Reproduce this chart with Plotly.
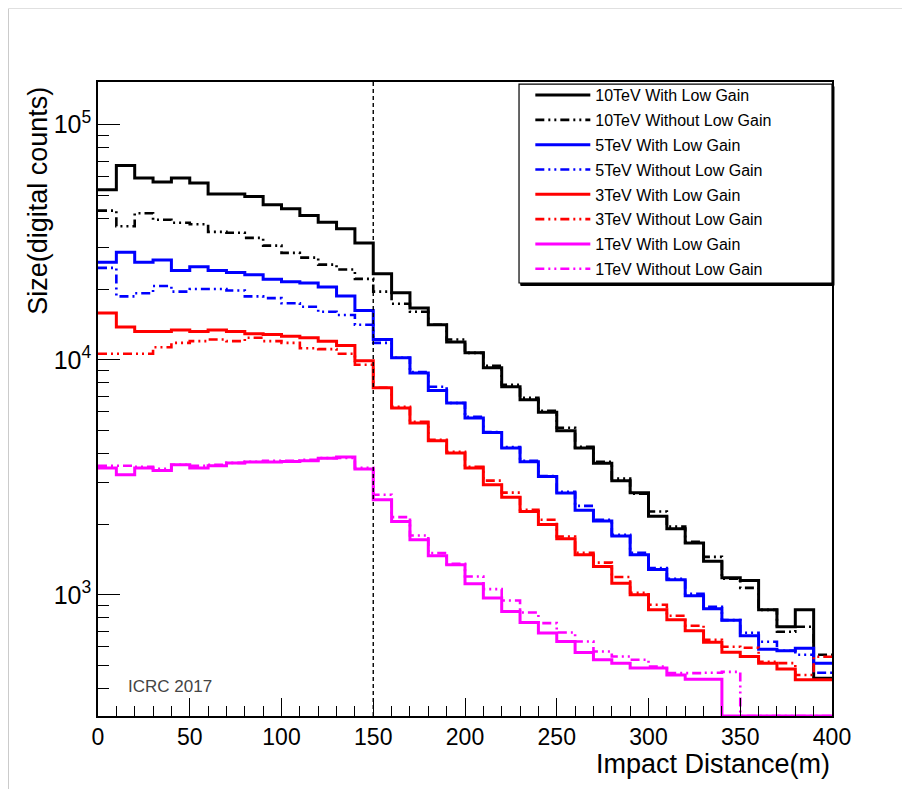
import numpy as np
import plotly.graph_objects as go

# ---------------- data ----------------
BIN_WIDTH = 10          # m
X_MIN, X_MAX = 0, 400
Y_MIN, Y_MAX = 305, 152000
LOW_GAIN_CUT = 150      # m, dashed vertical marker

ten_with = [52900, 67100, 59300, 57000, 59300, 56500, 50700, 50700, 49500, 45700,
            43900, 41100, 38500, 36100, 31400, 23200, 19300, 16600, 14100, 11900,
            10700, 9250, 7680, 6760, 5980, 4990, 4210, 3630, 3060, 2720,
            2160, 1910, 1660, 1390, 1181, 1150, 863, 731, 863, 441]
ten_without = [43100, 37000, 42000, 39400, 38300, 37700, 35000, 34700, 33000, 30600,
               28500, 27200, 25400, 24200, 22100, 19500, 17300, 16000, 14100, 12200,
               10700, 9430, 7830, 6890, 6070, 5140, 4260, 3680, 3120, 2690,
               2260, 1950, 1680, 1450, 1170, 1070, 863, 696, 731, 556]
five_with = [26000, 28700, 26000, 26600, 24000, 24900, 24000, 23500, 23000, 22000,
             21500, 21200, 20400, 18700, 16200, 12200, 10200, 8780, 7400, 6540,
             5650, 4900, 4210, 3680, 3190, 2710, 2290, 2060, 1780, 1480,
             1280, 1160, 990, 872, 780, 669, 587, 578, 593, 511]
five_without = [24600, 18600, 19200, 20600, 19500, 20000, 20000, 19700, 18600, 18300,
                17400, 16800, 16000, 15500, 14100, 11800, 10200, 8870, 7680, 6550,
                5720, 4920, 4250, 3720, 3200, 2740, 2390, 2085, 1800, 1510,
                1300, 1170, 1010, 889, 780, 689, 631, 578, 556, 466]
three_with = [15800, 13800, 13200, 13200, 13400, 13200, 13400, 13200, 12900, 12800,
              12600, 12400, 12000, 11500, 9900, 7600, 6230, 5380, 4520, 4010,
              3460, 2940, 2600, 2260, 1990, 1730, 1480, 1320, 1120, 1000,
              863, 783, 703, 628, 569, 546, 512, 483, 435, 435]
three_without = [10600, 10600, 10600, 11300, 11800, 12000, 12200, 12000, 12400, 12000,
                 11800, 11200, 11100, 10600, 9520, 7600, 6310, 5450, 4570, 4060,
                 3500, 3060, 2720, 2300, 2085, 1770, 1510, 1370, 1190, 1020,
                 907, 814, 738, 643, 601, 595, 519, 512, 456, 545]
one_with = [3460, 3240, 3460, 3380, 3575, 3460, 3540, 3635, 3670, 3670,
            3690, 3720, 3815, 3855, 3430, 2540, 2050, 1714, 1466, 1342,
            1114, 968, 849, 762, 687, 633, 568, 529, 512, 488,
            488, 456, 437, 437, 0, 0, 0, 0, 0, 0]
one_without = [3540, 3540, 3505, 3440, 3575, 3540, 3575, 3640, 3680, 3720,
               3720, 3750, 3820, 3820, 3470, 2665, 2140, 1787, 1504, 1355,
               1196, 1057, 946, 841, 758, 691, 633, 574, 546, 529,
               495, 464, 464, 466, 470, 0, 0, 0, 0, 0]

series_names = ["10TeV With Low Gain", "10TeV Without Low Gain",
                "5TeV With Low Gain", "5TeV Without Low Gain",
                "3TeV With Low Gain", "3TeV Without Low Gain",
                "1TeV With Low Gain", "1TeV Without Low Gain"]
series_values = [ten_with, ten_without, five_with, five_without,
                 three_with, three_without, one_with, one_without]
series_colors = ["#000000", "#000000", "#0000ff", "#0000ff",
                 "#ff0000", "#ff0000", "#ff00ff", "#ff00ff"]
series_solid = [True, False, True, False, True, False, True, False]

x_tick_vals = list(range(0, 401, 50))
y_tick_vals = [1e3, 1e4, 1e5]
y_tick_text = ["10<sup>3</sup>", "10<sup>4</sup>", "10<sup>5</sup>"]
y_minor_vals = [k * 10 ** p for p in (2, 3, 4) for k in range(2, 10)] + [1e3, 1e4, 1e5]

FONT = "Liberation Sans, Arial, Helvetica, sans-serif"
DASHDOT = "9px,4px,2px,4px,2px,4px"

# ---------------- figure ----------------
bin_edges = np.arange(X_MIN, X_MAX + BIN_WIDTH, BIN_WIDTH)

fig = go.Figure()
for i, (name, vals, col, solid) in enumerate(zip(series_names, series_values,
                                                  series_colors, series_solid)):
    v = np.asarray(vals, dtype=float)
    v = np.where(v > 0, v, Y_MIN)          # empty bins drawn on the frame bottom
    y = np.append(v, v[-1])
    fig.add_trace(go.Scatter(
        x=bin_edges, y=y, mode="lines", name=name, legendgroup=f"g{i}",
        line=dict(shape="hv", color=col, width=3 if solid else 2.6,
                  dash="solid" if solid else DASHDOT),
        hoverinfo="skip"))

# legend box shadow + box (drawn as shapes, ROOT-like)
fig.add_shape(type="rect", xref="paper", yref="paper",
              x0=0.5760, x1=1.0027, y0=0.6790, y1=0.9930,
              line=dict(color="black", width=1), fillcolor="black", layer="above")
fig.add_shape(type="rect", xref="paper", yref="paper",
              x0=0.5736, x1=1.0, y0=0.683, y1=0.9968,
              line=dict(color="black", width=1.2), fillcolor="white", layer="above")

# dashed vertical line at the low-gain cut
fig.add_shape(type="line", xref="x", yref="paper", x0=LOW_GAIN_CUT, x1=LOW_GAIN_CUT,
              y0=0, y1=1, line=dict(color="black", width=1.4, dash="4px,3px"))

# outer page frame lines (light grey)
fig.add_shape(type="line", xref="paper", yref="paper", x0=-0.1220, x1=-0.1220,
              y0=-0.2, y1=1.1159, line=dict(color="#c8c8c8", width=1))
fig.add_shape(type="line", xref="paper", yref="paper", x0=-0.1220, x1=1.2,
              y0=1.1159, y1=1.1159, line=dict(color="#e0e0e0", width=1))

fig.add_annotation(text="Size(digital counts)", xref="paper", yref="paper",
                   x=-0.082, y=0.9953, xanchor="center", yanchor="top",
                   textangle=-90, showarrow=False,
                   font=dict(family=FONT, size=27, color="black"))
fig.add_annotation(text="Impact Distance(m)", xref="paper", yref="paper",
                   x=1.0, y=-0.0757, xanchor="right", yanchor="middle",
                   showarrow=False, font=dict(family=FONT, size=27, color="black"))
fig.add_annotation(text="ICRC 2017", xref="paper", yref="paper",
                   x=0.038, y=0.0473, xanchor="left", yanchor="middle",
                   showarrow=False, font=dict(family=FONT, size=17, color="#444444"))

fig.update_layout(
    width=910, height=789,
    margin=dict(l=90, r=86, t=74, b=81),
    paper_bgcolor="white", plot_bgcolor="white",
    font=dict(family=FONT, color="black"),
    showlegend=True,
    legend=dict(x=0.589, y=1.006, xanchor="left", yanchor="top",
                bgcolor="rgba(0,0,0,0)", borderwidth=0,
                font=dict(family=FONT, size=16, color="black"),
                itemwidth=55, tracegroupgap=1, traceorder="grouped"),
    xaxis=dict(range=[X_MIN, X_MAX], tickvals=x_tick_vals,
               ticks="inside", ticklen=18, tickwidth=1.3, tickcolor="black",
               minor=dict(ticks="inside", ticklen=10, tickwidth=1.2, dtick=10,
                          tick0=0, tickcolor="black", showgrid=False),
               showline=True, linecolor="black", linewidth=1.5, mirror=True,
               showgrid=False, zeroline=False, ticklabelstandoff=0,
               tickfont=dict(family=FONT, size=23, color="black")),
    yaxis=dict(type="log", range=[np.log10(Y_MIN), np.log10(Y_MAX)],
               tickvals=y_tick_vals, ticktext=y_tick_text,
               ticks="inside", ticklen=22, tickwidth=1.3, tickcolor="black",
               minor=dict(ticks="inside", ticklen=11, tickwidth=1.2,
                          tickvals=y_minor_vals, tickcolor="black", showgrid=False),
               showline=True, linecolor="black", linewidth=1.5, mirror=True,
               showgrid=False, zeroline=False,
               tickfont=dict(family=FONT, size=25, color="black")),
)

fig.write_html("out.html")
